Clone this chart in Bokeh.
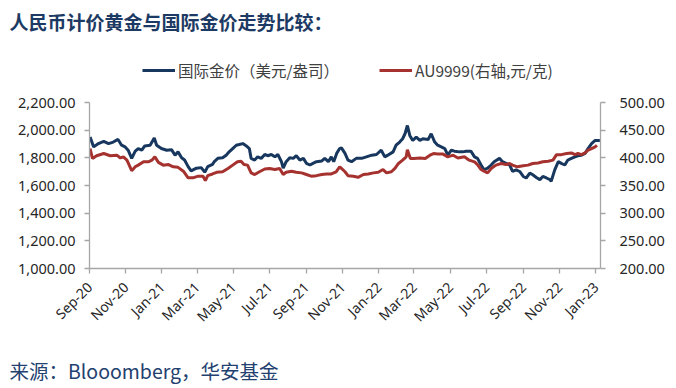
import math
import pandas as pd
from bokeh.plotting import figure
from bokeh.models import (Range1d, LinearAxis, FixedTicker, NumeralTickFormatter,
                          DatetimeTickFormatter, Legend, LegendItem, Title, ColumnDataSource)
from bokeh.embed import file_html
from bokeh.resources import INLINE

# ---------------- data ----------------
tick_labels = ["Sep-20", "Nov-20", "Jan-21", "Mar-21", "May-21", "Jul-21", "Sep-21", "Nov-21",
               "Jan-22", "Mar-22", "May-22", "Jul-22", "Sep-22", "Nov-22", "Jan-23"]
left_ticks = [1000, 1200, 1400, 1600, 1800, 2000, 2200]
right_ticks = [200, 250, 300, 350, 400, 450, 500]

intl_dates = [
    "2020-09-02", "2020-09-08", "2020-09-16", "2020-09-25", "2020-10-03", "2020-10-11", "2020-10-19", "2020-10-25", "2020-10-31", "2020-11-05",
    "2020-11-11", "2020-11-17", "2020-11-22", "2020-11-28", "2020-12-03", "2020-12-12", "2020-12-19", "2020-12-23", "2020-12-31", "2021-01-09",
    "2021-01-17", "2021-01-23", "2021-01-28", "2021-02-03", "2021-02-08", "2021-02-14", "2021-02-19", "2021-02-28", "2021-03-08", "2021-03-14",
    "2021-03-19", "2021-03-27", "2021-03-30", "2021-04-05", "2021-04-13", "2021-04-19", "2021-04-24", "2021-04-30", "2021-05-06", "2021-05-11",
    "2021-05-17", "2021-05-23", "2021-05-28", "2021-05-31", "2021-06-06", "2021-06-11", "2021-06-17", "2021-06-23", "2021-06-28", "2021-07-04",
    "2021-07-10", "2021-07-15", "2021-07-21", "2021-07-24", "2021-07-29", "2021-08-04", "2021-08-10", "2021-08-15", "2021-08-21", "2021-08-27",
    "2021-09-01", "2021-09-07", "2021-09-12", "2021-09-18", "2021-09-27", "2021-10-02", "2021-10-08", "2021-10-13", "2021-10-17", "2021-10-22",
    "2021-10-27", "2021-10-30", "2021-11-05", "2021-11-10", "2021-11-16", "2021-11-24", "2021-12-03", "2021-12-11", "2021-12-20", "2021-12-28",
    "2022-01-05", "2022-01-11", "2022-01-16", "2022-01-25", "2022-01-30", "2022-02-05", "2022-02-10", "2022-02-14", "2022-02-18", "2022-02-22",
    "2022-02-27", "2022-03-05", "2022-03-11", "2022-03-16", "2022-03-25", "2022-03-30", "2022-04-05", "2022-04-10", "2022-04-16", "2022-04-22",
    "2022-04-27", "2022-05-03", "2022-05-08", "2022-05-17", "2022-05-22", "2022-05-28", "2022-06-05", "2022-06-11", "2022-06-16", "2022-06-22",
    "2022-06-27", "2022-07-03", "2022-07-09", "2022-07-14", "2022-07-23", "2022-07-28", "2022-08-03", "2022-08-09", "2022-08-14", "2022-08-20",
    "2022-08-26", "2022-09-01", "2022-09-06", "2022-09-12", "2022-09-17", "2022-09-23", "2022-09-29", "2022-10-04", "2022-10-10", "2022-10-16",
    "2022-10-18", "2022-10-24", "2022-10-30", "2022-11-04", "2022-11-10", "2022-11-15", "2022-11-21", "2022-11-27", "2022-12-02", "2022-12-08",
    "2022-12-14", "2022-12-19", "2022-12-25", "2022-12-31", "2023-01-05", "2023-01-08",
]
intl_gold = [  # USD / oz, left axis
    1951, 1880, 1904, 1920, 1904, 1915, 1934, 1892, 1880, 1856,
    1797, 1849, 1868, 1856, 1887, 1892, 1944, 1892, 1868, 1856,
    1860, 1820, 1844, 1801, 1785, 1737, 1707, 1726, 1730, 1697,
    1737, 1754, 1773, 1797, 1801, 1820, 1844, 1868, 1892, 1897,
    1904, 1887, 1868, 1797, 1785, 1808, 1797, 1825, 1816, 1825,
    1808, 1825, 1773, 1726, 1773, 1801, 1797, 1816, 1785, 1797,
    1761, 1749, 1761, 1773, 1778, 1797, 1773, 1808, 1773, 1833,
    1868, 1873, 1833, 1785, 1773, 1797, 1797, 1808, 1820, 1825,
    1856, 1808, 1820, 1844, 1892, 1915, 1939, 1975, 2035, 1963,
    1927, 1951, 1927, 1939, 1934, 1975, 1915, 1892, 1880, 1868,
    1820, 1856, 1849, 1844, 1844, 1849, 1849, 1808, 1797, 1749,
    1714, 1726, 1749, 1773, 1797, 1773, 1761, 1749, 1702, 1714,
    1702, 1666, 1655, 1690, 1678, 1659, 1643, 1666, 1655, 1643,
    1631, 1714, 1773, 1761, 1749, 1785, 1797, 1808, 1816, 1820,
    1833, 1868, 1904, 1927, 1927, 1927,
]

au_dates = [
    "2020-09-02", "2020-09-06", "2020-09-13", "2020-09-25", "2020-10-06", "2020-10-17", "2020-10-23", "2020-10-28", "2020-11-03", "2020-11-11",
    "2020-11-17", "2020-11-22", "2020-12-01", "2020-12-09", "2020-12-15", "2020-12-20", "2020-12-26", "2021-01-03", "2021-01-12", "2021-01-20",
    "2021-01-28", "2021-02-06", "2021-02-14", "2021-02-22", "2021-03-03", "2021-03-11", "2021-03-15", "2021-03-19", "2021-03-27", "2021-04-03",
    "2021-04-13", "2021-04-22", "2021-04-30", "2021-05-08", "2021-05-14", "2021-05-19", "2021-05-25", "2021-05-31", "2021-06-06", "2021-06-14",
    "2021-06-23", "2021-07-01", "2021-07-10", "2021-07-18", "2021-07-24", "2021-07-29", "2021-08-07", "2021-08-15", "2021-08-24", "2021-09-01",
    "2021-09-09", "2021-09-18", "2021-09-27", "2021-10-05", "2021-10-13", "2021-10-21", "2021-10-27", "2021-10-30", "2021-11-05", "2021-11-10",
    "2021-11-19", "2021-11-27", "2021-12-06", "2021-12-14", "2021-12-23", "2021-12-31", "2022-01-08", "2022-01-14", "2022-01-22", "2022-01-28",
    "2022-02-03", "2022-02-10", "2022-02-16", "2022-02-18", "2022-02-23", "2022-03-01", "2022-03-11", "2022-03-20", "2022-03-28", "2022-04-03",
    "2022-04-10", "2022-04-19", "2022-04-27", "2022-05-06", "2022-05-14", "2022-05-25", "2022-06-02", "2022-06-11", "2022-06-16", "2022-06-22",
    "2022-06-27", "2022-07-03", "2022-07-09", "2022-07-17", "2022-07-26", "2022-08-03", "2022-08-09", "2022-08-14", "2022-08-22", "2022-09-01",
    "2022-09-09", "2022-09-17", "2022-09-26", "2022-10-04", "2022-10-13", "2022-10-21", "2022-10-27", "2022-11-04", "2022-11-13", "2022-11-21",
    "2022-11-27", "2022-12-02", "2022-12-08", "2022-12-14", "2022-12-19", "2022-12-25", "2022-12-31", "2023-01-03",
]
au9999 = [  # CNY / g, right axis
    417, 399, 404, 408, 404, 405, 400, 402, 396, 377,
    384, 387, 393, 393, 396, 402, 392, 387, 388, 384,
    383, 376, 364, 364, 367, 367, 359, 368, 371, 374,
    375, 381, 387, 393, 394, 388, 387, 373, 370, 375,
    380, 381, 379, 381, 370, 374, 376, 374, 373, 370,
    367, 368, 370, 371, 371, 375, 384, 381, 375, 368,
    367, 365, 370, 371, 373, 374, 379, 373, 375, 381,
    390, 396, 402, 415, 399, 399, 400, 399, 405, 408,
    407, 407, 402, 405, 400, 402, 396, 393, 388, 379,
    376, 373, 381, 387, 390, 388, 390, 387, 384, 386,
    387, 390, 391, 393, 394, 396, 406, 406, 408, 409,
    406, 408, 406, 409, 414, 417, 420, 423,
]

series_names = ["国际金价（美元/盎司）", "AU9999(右轴,元/克)"]
title_text = "人民币计价黄金与国际金价走势比较："
source_text = "来源：Blooomberg，华安基金"

# ---------------- layout / styling ----------------
BLUE = "#17375E"
RED = "#A5322F"
AXIS = "#A6A6A6"
FONT = "Noto Sans"
CJK = "Noto Sans CJK SC"

W, H = 676, 388
FRAME_L, FRAME_R = 89, 600          # page pixels of the plotting frame
AXIS_TOP, FRAME_B = 102, 270        # top of the value axes, bottom of frame
FRAME_T = 38                        # frame extended upward to hold the legend
stretch = (FRAME_B - FRAME_T) / (FRAME_B - AXIS_TOP)

y_lo, y_hi = left_ticks[0], left_ticks[-1]
r_lo, r_hi = right_ticks[0], right_ticks[-1]

src_i = ColumnDataSource(dict(d=pd.to_datetime(intl_dates), v=intl_gold))
src_a = ColumnDataSource(dict(d=pd.to_datetime(au_dates), v=au9999))

p = figure(width=W, height=H, x_axis_type="datetime", output_backend="svg",
           toolbar_location=None,
           x_range=Range1d(pd.Timestamp("2020-09-01"), pd.Timestamp("2023-01-09")),
           y_range=Range1d(y_lo, y_lo + (y_hi - y_lo) * stretch),
           min_border_left=FRAME_L, min_border_right=W - FRAME_R,
           min_border_top=FRAME_T, min_border_bottom=H - FRAME_B)
p.extra_y_ranges = {"r": Range1d(r_lo, r_lo + (r_hi - r_lo) * stretch)}

p.xgrid.visible = False
p.ygrid.visible = False
p.outline_line_color = None
p.background_fill_color = "white"
p.border_fill_color = "white"

ri = p.line("d", "v", source=src_i, line_color=BLUE, line_width=3)
ra = p.line("d", "v", source=src_a, line_color=RED, line_width=3, y_range_name="r")

# right axis
rax = LinearAxis(y_range_name="r")
p.add_layout(rax, "right")

tick_ms = [t.value // 10**6 for t in pd.to_datetime(tick_labels, format="%b-%y")]
p.xaxis.ticker = FixedTicker(ticks=tick_ms)
fmt = "%b-%y"
p.xaxis.formatter = DatetimeTickFormatter(days=fmt, months=fmt, years=fmt, hours=fmt,
                                          minutes=fmt, seconds=fmt, milliseconds=fmt,
                                          minsec=fmt, hourmin=fmt)
p.xaxis.major_label_orientation = math.pi / 4
# an invisible axis label only reserves space between the axis and the source note
p.xaxis.axis_label = " "
p.xaxis.axis_label_text_font_size = "8px"
p.xaxis.axis_label_standoff = 2

p.yaxis[0].ticker = FixedTicker(ticks=left_ticks)
p.yaxis[0].formatter = NumeralTickFormatter(format="0,0.00")
p.yaxis[0].bounds = (y_lo, y_hi)
rax.ticker = FixedTicker(ticks=right_ticks)
rax.formatter = NumeralTickFormatter(format="0.00")
rax.bounds = (r_lo, r_hi)

for ax in [p.xaxis[0], p.yaxis[0], rax]:
    ax.axis_line_color = AXIS
    ax.axis_line_width = 1.3
    ax.major_tick_line_color = AXIS
    ax.major_tick_line_width = 1.3
    ax.major_tick_out = 5
    ax.major_tick_in = 0
    ax.minor_tick_line_color = None
    ax.major_label_text_font = FONT
    ax.major_label_text_font_size = "14.5px"
    ax.major_label_text_color = "#262626"
p.yaxis[0].major_label_standoff = 9
rax.major_label_standoff = 14
p.xaxis.major_label_text_font_size = "14px"
p.xaxis.major_label_standoff = 11

# legend placed in the upper (empty) part of the frame
legend = Legend(items=[LegendItem(label=series_names[0], renderers=[ri]),
                       LegendItem(label=series_names[1], renderers=[ra])],
                orientation="horizontal", location=(53, 187))
legend.label_text_font = CJK
legend.label_text_font_size = "15.5px"
legend.label_text_color = "#404040"
legend.glyph_width = 33
legend.glyph_height = 20
legend.label_standoff = 3
legend.spacing = 40
legend.padding = 0
legend.margin = 0
legend.border_line_color = None
legend.background_fill_alpha = 0
p.add_layout(legend)

# title
p.title.text = title_text
p.title.align = "left"
p.title.offset = -80
p.title.text_font = CJK
p.title.text_font_size = "19px"
p.title.text_font_style = "bold"
p.title.text_color = "#1C3A63"
p.title.standoff = 10

# footer
footer = Title(text=source_text, align="left", offset=-80, text_font=CJK,
               text_font_size="19.5px", text_font_style="normal", text_color="#23416F",
               standoff=8)
p.add_layout(footer, "below")

open("out.html", "w").write(file_html(p, INLINE))
